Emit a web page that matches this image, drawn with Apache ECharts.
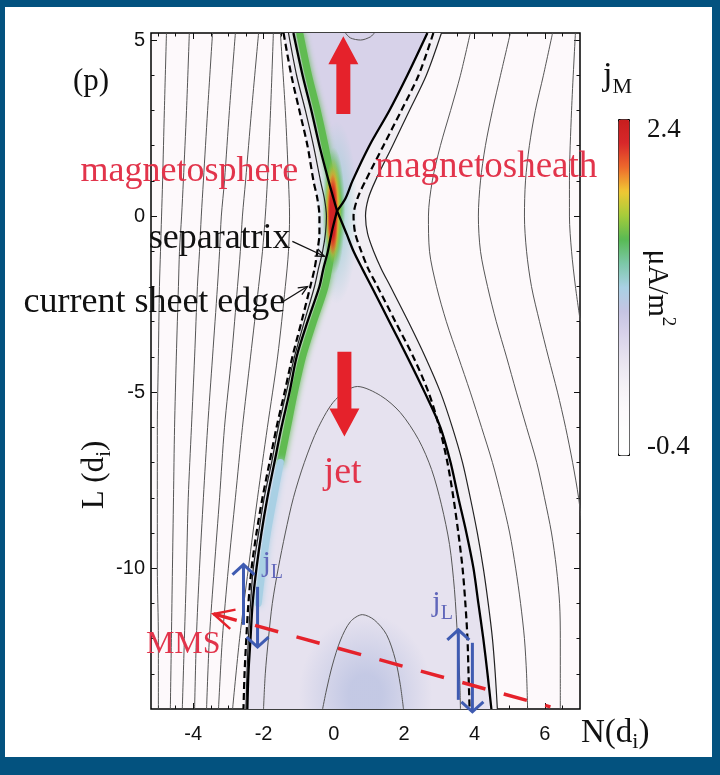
<!DOCTYPE html>
<html><head><meta charset="utf-8">
<script src="https://cdn.jsdelivr.net/npm/echarts@6/dist/echarts.min.js"></script>
<style>
html,body{margin:0;padding:0;background:#03527f;width:720px;height:775px;overflow:hidden}
#frame{position:absolute;left:5px;top:7px;width:707px;height:750px;background:#fff}
#chart{position:absolute;left:0;top:0;width:720px;height:775px}
</style></head><body>
<div id="frame"></div><div id="chart"></div>
<script>
// ---------------- axes / ticks ----------------
const xRange = [-5.2, 7.0];
const yRange = [-14, 5.2];
const xMajorTicks = [-4, -2, 0, 2, 4, 6];
const xMinorTicks = [-5, -4.5, -3.5, -3, -2.5, -1.5, -1, -0.5, 0.5, 1, 1.5, 2.5, 3, 3.5, 4.5, 5, 5.5, 6.5];
const yMajorTicks = [5, 0, -5, -10];
const yMinorTicks = [4, 3, 2, 1, -1, -2, -3, -4, -6, -7, -8, -9, -11, -12, -13];
const cbRange = [-0.4, 2.4];
const cbTicks = [2.4, -0.4];

// ---------------- separatrices ----------------
const sepUL_N = [-1.15, -0.89, -0.64, -0.41, -0.15, -0.01, 0.09];
const sepUL_L = [5.2, 4, 3, 2, 1, 0.5, 0.15];
const sepUR_N = [0.09, 0.33, 0.53, 1.01, 1.58, 2.09, 2.66];
const sepUR_L = [0.15, 0.5, 1, 2, 3, 4, 5.2];
const sepLow_L = [0.15, -0.5, -1, -1.5, -2, -3, -4, -5, -6, -7, -8, -9, -10, -11, -12, -13, -14];
const sepLL_N = [0.09, -0.07, -0.17, -0.30, -0.41, -0.75, -1.06, -1.26, -1.49, -1.69, -1.89, -2.06, -2.20, -2.31, -2.37, -2.43, -2.46];
const sepLR_N = [0.09, 0.36, 0.56, 0.81, 1.07, 1.58, 2.09, 2.58, 3.03, 3.32, 3.54, 3.77, 3.97, 4.11, 4.25, 4.37, 4.48];

// ---------------- current sheet edges (dashed) and adjacent field lines ----------------
const edge_L = [5.2, 4, 3, 2, 1, 0.5, 0, -0.5, -1, -1.5, -2, -3, -4, -5, -6, -7, -8, -9, -10, -11, -12, -13, -14];
const edgeLeft_N = [-1.43, -1.21, -0.98, -0.75, -0.58, -0.47, -0.41, -0.41, -0.47, -0.55, -0.67, -0.92, -1.18, -1.40, -1.63, -1.83, -2.03, -2.20, -2.34, -2.43, -2.49, -2.54, -2.57];
const nearLeft_N = [-1.29, -1.06, -0.81, -0.58, -0.38, -0.27, -0.21, -0.24, -0.32, -0.44, -0.55, -0.84, -1.12, -1.35, -1.58, -1.77, -1.98, -2.14, -2.29, -2.37, -2.43, -2.47, -2.50];
const edgeRight_N = [2.83, 2.41, 1.92, 1.41, 0.90, 0.67, 0.56, 0.61, 0.78, 0.98, 1.24, 1.75, 2.26, 2.69, 3.00, 3.23, 3.40, 3.54, 3.66, 3.74, 3.80, 3.83, 3.86];
const nearRight_N = [3.06, 2.63, 2.15, 1.67, 1.18, 0.98, 0.90, 0.96, 1.13, 1.35, 1.61, 2.12, 2.60, 3.03, 3.37, 3.66, 3.88, 4.08, 4.25, 4.39, 4.51, 4.59, 4.65];

// ---------------- magnetosphere field lines ----------------
const L_msph = [5.2, 3, 1, 0, -1, -2, -4, -6, -8, -10, -12, -14];
const msph1 = [-4.76, -4.82, -4.87, -4.90, -4.93, -4.96, -4.99, -5.02, -5.02, -5.02, -4.99, -4.99];
const msph2 = [-4.11, -4.19, -4.28, -4.33, -4.39, -4.42, -4.48, -4.53, -4.56, -4.59, -4.62, -4.65];
const msph3 = [-3.45, -3.59, -3.71, -3.77, -3.82, -3.88, -3.96, -4.05, -4.14, -4.19, -4.25, -4.31];
const msph4 = [-2.80, -2.97, -3.11, -3.20, -3.25, -3.31, -3.45, -3.59, -3.71, -3.82, -3.91, -3.96];
const msph5 = [-2.14, -2.34, -2.51, -2.60, -2.66, -2.74, -2.91, -3.11, -3.25, -3.40, -3.54, -3.62];
const msph6 = [-1.72, -1.80, -1.89, -1.95, -2.03, -2.14, -2.37, -2.60, -2.80, -3.00, -3.17, -3.28];
const msph7 = [-1.52, -1.38, -1.29, -1.26, -1.29, -1.38, -1.60, -1.89, -2.17, -2.43, -2.68, -2.88];

// ---------------- magnetosheath field lines ----------------
const L_msh = [5.2, 4, 3, 2, 1, 0, -1, -2, -3, -4, -5, -6, -7, -8, -9, -10, -11, -12, -13, -14];
const msh1 = [3.88, 3.60, 3.32, 3.03, 2.80, 2.69, 2.72, 2.92, 3.20, 3.54, 3.88, 4.20, 4.51, 4.77, 5.00, 5.17, 5.31, 5.42, 5.48, 5.51];
const msh2 = [5.02, 4.74, 4.51, 4.31, 4.17, 4.11, 4.17, 4.37, 4.62, 4.91, 5.19, 5.48, 5.77, 5.99, 6.19, 6.33, 6.42, 6.44, 6.44, 6.44];
const msh3 = [6.22, 5.96, 5.73, 5.56, 5.45, 5.42, 5.48, 5.62, 5.85, 6.10, 6.36, 6.59, 6.79, 6.96, 7.08];
const L_msh4 = [5.2, 3, 1, 0, -1, -2, -3];
const msh4 = [6.87, 6.76, 6.70, 6.70, 6.76, 6.87, 7.01];

// ---------------- closed contours inside the jet ----------------
const jetBig_N = [-2.00, -1.95, -1.86, -1.75, -1.58, -1.38, -1.15, -0.84, -0.44, 0.05, 0.67, 1.33, 1.89, 2.41, 2.78, 3.06, 3.29, 3.43, 3.52, 3.58, 3.60];
const jetBig_L = [-14, -13, -12, -11, -10, -9, -8, -7, -6, -5.21, -4.84, -5.10, -5.58, -6.35, -7.20, -8.20, -9.33, -10.61, -12.03, -13.17, -14];
const jetSmall_N = [-0.32, -0.21, -0.04, 0.19, 0.47, 0.81, 1.15, 1.50, 1.75, 1.89, 1.98];
const jetSmall_L = [-14, -13.46, -12.75, -12.04, -11.52, -11.32, -11.47, -11.89, -12.60, -13.31, -14];
const topArc_N = [0.33, 0.47, 0.76, 1.04, 1.15];
const topArc_L = [5.2, 5.06, 5.0, 5.09, 5.2];

// ---------------- j_M field (regions, strips, blobs) ----------------
const patchValues = [0.62, 0.41, 0.30, 0.22];      // upper jet, lower jet, left current layer, right current layer
const greenUp_N = [-0.97, -0.72, -0.47, -0.25, -0.06, 0.04, 0.08];
const greenUp_L = [5.2, 4, 3, 2, 1, 0.5, 0.2];
const greenLow_N = [0.04, -0.06, -0.25, -0.58, -0.89, -1.12, -1.32, -1.52];
const greenLow_L = [-0.38, -1, -2, -3, -4, -5, -6, -7];
const cyanLow_N = [-1.52, -1.71, -1.89, -2.03, -2.15];
const cyanLow_L = [-7, -8, -9, -10, -11];
const stripValues = [1.42, 1.42, 1.0];
const blobN = [0.9, 0.08, 0.0, -0.02, -0.03, -0.03];
const blobL = [-13.6, 0.1, 0.15, 0.15, 0.1, 0.05];
const blobRN = [1.9, 0.6, 0.32, 0.24, 0.19, 0.15];
const blobRL = [2.3, 2.6, 1.8, 1.5, 1.3, 1.15];
const blobValues = [0.84, 1.05, 1.42, 1.72, 1.95, 2.3];

// ---------------- annotations ----------------
const noteTexts = ['magnetosphere', 'magnetosheath', 'separatrix', 'current sheet edge', 'jet', 'MMS'];
const noteN = [-1.01, 1.18, -1.23, -1.38, 0.25, -3.22];
const noteL = [1.27, 1.40, -0.63, -2.45, -7.29, -12.18];
const bigArrowN = [0.27, 0.30];
const bigArrowFromL = [2.90, -3.85];
const bigArrowToL = [5.11, -6.26];
const jLArrowN = [-2.57, -2.17, 3.54, 3.94];
const jLArrowFromL = [-11.61, -10.53, -13.74, -12.12];
const jLArrowToL = [-9.90, -12.24, -11.75, -14.08];
const jLLabelN = [-2.03, 2.80];
const jLLabelL = [-9.93, -11.07];
const mmsPath = [[-3.42, -11.30, 6.16, -13.94]];
const pointerFrom = [[-1.18, -0.72], [-1.43, -2.42]];
const pointerTo = [[-0.27, -1.14], [-0.75, -2.0]];

// ---------------- helpers ----------------
const serif = '"Liberation Serif", "Times New Roman", serif';
const sans = '"Liberation Sans", Arial, sans-serif';
const RED_TXT = '#e2344b';
const RED_ARR = '#e5222b';
const BLUE = '#3f5bb1';
const BLUE_TXT = '#6066ba';
const zip = (N, L) => N.map((n, i) => [n, L[i]]);

const sepUL = zip(sepUL_N, sepUL_L);
const sepUR = zip(sepUR_N, sepUR_L);
const sepLL = zip(sepLL_N, sepLow_L);
const sepLR = zip(sepLR_N, sepLow_L);
const edgeLeft = zip(edgeLeft_N, edge_L);
const nearRight = zip(nearRight_N, edge_L);
const patchPolys = [
  sepUL.concat(sepUR),
  sepLL.concat(sepLR.slice().reverse()),
  edgeLeft.concat(sepLL.slice().reverse(), sepUL.slice().reverse()),
  nearRight.concat(sepLR.slice().reverse(), sepUR)
];
const stripLines = [zip(greenUp_N, greenUp_L), zip(greenLow_N, greenLow_L), zip(cyanLow_N, cyanLow_L)];

const fieldData = [];
patchValues.forEach((v, i) => fieldData.push([v, 0, i]));
[0, 1].forEach(i => fieldData.push([blobValues[i], 2, i]));
stripValues.forEach((v, i) => fieldData.push([v, 1, i]));
[2, 3, 4, 5].forEach(i => fieldData.push([blobValues[i], 2, i]));

function renderField(params, api) {
  const kind = api.value(1), idx = api.value(2);
  const color = api.visual('color');
  if (kind === 0) {
    return { type: 'polygon', silent: true, shape: { points: patchPolys[idx].map(p => api.coord(p)) }, style: { fill: color } };
  }
  if (kind === 1) {
    return { type: 'polyline', silent: true, shape: { points: stripLines[idx].map(p => api.coord(p)), smooth: 0.3 },
      style: { stroke: color, fill: null, lineWidth: 7, lineCap: 'round', shadowBlur: 6, shadowColor: color } };
  }
  const c = api.coord([blobN[idx], blobL[idx]]);
  const s = api.size([blobRN[idx], blobRL[idx]]);
  const clear = echarts.color.modifyAlpha(color, 0);
  const inner = idx === 0 ? 0.25 : idx === 1 ? 0.2 : 0.55;
  const alpha = idx === 0 ? 0.9 : idx === 1 ? 0.85 : 1;
  return { type: 'circle', silent: true, x: c[0], y: c[1], scaleY: s[1] / s[0], shape: { cx: 0, cy: 0, r: s[0] },
    style: { opacity: alpha, fill: { type: 'radial', x: 0.5, y: 0.5, r: 0.5, colorStops: [
      { offset: 0, color: color }, { offset: inner, color: color }, { offset: 1, color: clear }] } } };
}

function vHead(tip, ux, uy, back, spread) {
  const px = -uy, py = ux;
  return [[tip[0] - ux * back + px * spread, tip[1] - uy * back + py * spread], tip,
          [tip[0] - ux * back - px * spread, tip[1] - uy * back - py * spread]];
}
function unit(a, b) { const dx = b[0] - a[0], dy = b[1] - a[1], l = Math.hypot(dx, dy); return [dx / l, dy / l]; }

function renderBigArrow(params, api) {
  const a = api.coord([api.value(0), api.value(1)]);
  const b = api.coord([api.value(0), api.value(2)]);
  const [ux, uy] = unit(a, b); const px = -uy, py = ux;
  const hl = 28, hw = 15, sw = 7;
  const bx = b[0] - ux * hl, by = b[1] - uy * hl;
  return { type: 'polygon', silent: true, shape: { points: [
    [a[0] + px * sw, a[1] + py * sw], [bx + px * sw, by + py * sw], [bx + px * hw, by + py * hw], [b[0], b[1]],
    [bx - px * hw, by - py * hw], [bx - px * sw, by - py * sw], [a[0] - px * sw, a[1] - py * sw]] },
    style: { fill: RED_ARR } };
}
function renderJLArrow(params, api) {
  const a = api.coord([api.value(0), api.value(1)]);
  const b = api.coord([api.value(0), api.value(2)]);
  const [ux, uy] = unit(a, b);
  return { type: 'group', silent: true, children: [
    { type: 'line', shape: { x1: a[0], y1: a[1], x2: b[0], y2: b[1] }, style: { stroke: BLUE, lineWidth: 3 } },
    { type: 'polyline', shape: { points: vHead(b, ux, uy, 10, 11) }, style: { stroke: BLUE, lineWidth: 3, fill: null } }
  ] };
}
function renderMMS(params, api) {
  const a = api.coord([api.value(0), api.value(1)]);
  const b = api.coord([api.value(2), api.value(3)]);
  const [ux, uy] = unit(b, a);
  return { type: 'group', silent: true, children: [
    { type: 'line', shape: { x1: a[0], y1: a[1], x2: b[0], y2: b[1] }, style: { stroke: RED_ARR, lineWidth: 3.5, lineDash: [24, 19] } },
    { type: 'polyline', shape: { points: vHead(a, ux, uy, 20, 10) }, style: { stroke: RED_ARR, lineWidth: 2.5, fill: null } }
  ] };
}
function renderPointer(params, api) {
  const a = api.coord([api.value(0), api.value(1)]);
  const b = api.coord([api.value(2), api.value(3)]);
  const [ux, uy] = unit(a, b);
  return { type: 'group', silent: true, children: [
    { type: 'line', shape: { x1: a[0], y1: a[1], x2: b[0], y2: b[1] }, style: { stroke: '#111', lineWidth: 1.3 } },
    { type: 'polyline', shape: { points: vHead(b, ux, uy, 9, 4) }, style: { stroke: '#111', lineWidth: 1.3, fill: null } }
  ] };
}
const noteStyle = [
  { size: 36, color: RED_TXT, align: 'right' },
  { size: 37, color: RED_TXT, align: 'left' },
  { size: 36, color: '#111', align: 'right' },
  { size: 36, color: '#111', align: 'right' },
  { size: 38, color: RED_TXT, align: 'center' },
  { size: 32, color: RED_TXT, align: 'right' }
];
function renderNote(params, api) {
  const i = params.dataIndex, st = noteStyle[i];
  const p = api.coord([api.value(0), api.value(1)]);
  return { type: 'text', silent: true, x: p[0], y: p[1], style: { text: noteTexts[i], fontSize: st.size, fontFamily: serif,
    fill: st.color, align: st.align, textAlign: st.align, verticalAlign: 'middle', textVerticalAlign: 'middle' } };
}
function renderJL(params, api) {
  const p = api.coord([api.value(0), api.value(1)]);
  return { type: 'text', silent: true, x: p[0], y: p[1], style: { text: '{j|j}{s|L}', align: 'left', textAlign: 'left',
    verticalAlign: 'middle', textVerticalAlign: 'middle',
    rich: { j: { fontSize: 30, fontFamily: serif, fill: BLUE_TXT, color: BLUE_TXT, verticalAlign: 'bottom', padding: [0, 0, 5, 0] },
            s: { fontSize: 20, fontFamily: serif, fill: BLUE_TXT, color: BLUE_TXT, verticalAlign: 'bottom' } } } };
}

function lineSeries(data, color, width, dash) {
  return { type: 'line', xAxisIndex: 0, yAxisIndex: 0, data, showSymbol: false, symbol: 'none', smooth: 0.3,
    silent: true, animation: false, clip: true, z: 3,
    lineStyle: { color, width, type: dash ? [7, 4] : 'solid' } };
}

function xAx(pos, ticks, len, showLabel) {
  return { type: 'value', gridIndex: 0, position: pos, min: xRange[0], max: xRange[1],
    axisLine: { show: false, onZero: false }, splitLine: { show: false },
    axisTick: { show: true, inside: true, length: len, customValues: ticks, lineStyle: { color: '#111', width: 1 } },
    axisLabel: { show: showLabel, customValues: ticks, margin: 15, fontSize: 20, fontFamily: sans, color: '#111' } };
}
function yAx(pos, ticks, len, showLabel) {
  return { type: 'value', gridIndex: 0, position: pos, min: yRange[0], max: yRange[1],
    axisLine: { show: false, onZero: false }, splitLine: { show: false },
    axisTick: { show: true, inside: true, length: len, customValues: ticks, lineStyle: { color: '#111', width: 1 } },
    axisLabel: { show: showLabel, customValues: ticks, margin: 6, fontSize: 20, fontFamily: sans, color: '#111' } };
}

const cbColors = ['#ffffff', '#fefdfe', '#fbf9fb', '#f3f0f5', '#e7e3ef', '#d9d3ea', '#c6c4e3', '#a9d0e4',
                  '#7cc8a8', '#58b954', '#a6cc3a', '#f0c834', '#ee6a2c', '#d8282a', '#c81e1e'];

const chart = echarts.init(document.getElementById('chart'), null, { renderer: 'canvas' });
chart.setOption({
  animation: false,
  backgroundColor: 'transparent',
  textStyle: { fontFamily: sans },
  grid: [
    { left: 151, top: 33, width: 429, height: 676, show: true, backgroundColor: '#fdf9fb', borderColor: '#000', borderWidth: 1.5, containLabel: false, outerBoundsMode: 'none' },
    { left: 618, top: 119, width: 11, height: 336, show: false, containLabel: false, outerBoundsMode: 'none' }
  ],
  xAxis: [
    xAx('bottom', xMajorTicks, 6, true), xAx('bottom', xMinorTicks, 3.5, false),
    xAx('top', xMajorTicks, 6, false), xAx('top', xMinorTicks, 3.5, false),
    { type: 'value', gridIndex: 1, show: false, min: 0, max: 1 }
  ],
  yAxis: [
    yAx('left', yMajorTicks, 6, true), yAx('left', yMinorTicks, 3.5, false),
    yAx('right', yMajorTicks, 6, false), yAx('right', yMinorTicks, 3.5, false),
    { type: 'value', gridIndex: 1, position: 'right', min: cbRange[0], max: cbRange[1],
      axisLine: { show: false, onZero: false }, axisTick: { show: false }, splitLine: { show: false },
      axisLabel: { show: true, customValues: cbTicks, margin: 18, fontSize: 27, fontFamily: serif, color: '#111',
        formatter: v => (v > 1 ? '{t|' + v + '}' : '{b|' + v + '}'),
        rich: { t: { fontSize: 27, fontFamily: serif, color: '#111', padding: [22, 0, 0, 0] },
                b: { fontSize: 27, fontFamily: serif, color: '#111', padding: [0, 0, 16, 0] } } } }
  ],
  visualMap: [{
    type: 'continuous', min: cbRange[0], max: cbRange[1], dimension: 0, seriesIndex: 0,
    left: 618, top: 119, itemWidth: 11, itemHeight: 336, orient: 'vertical', padding: 0,
    calculable: false, hoverLink: false, borderColor: '#000', borderWidth: 1,
    inRange: { color: cbColors }
  }],
  series: [
    { type: 'custom', name: 'jM', xAxisIndex: 0, yAxisIndex: 0, data: fieldData, renderItem: renderField, clip: true, silent: true, z: 1 },
    lineSeries(zip(msph1, L_msph), '#555', 1),
    lineSeries(zip(msph2, L_msph), '#555', 1),
    lineSeries(zip(msph3, L_msph), '#555', 1),
    lineSeries(zip(msph4, L_msph), '#555', 1),
    lineSeries(zip(msph5, L_msph), '#555', 1),
    lineSeries(zip(msph6, L_msph), '#555', 1),
    lineSeries(zip(msph7, L_msph), '#555', 1),
    lineSeries(zip(msh1, L_msh), '#555', 1),
    lineSeries(zip(msh2, L_msh), '#555', 1),
    lineSeries(zip(msh3, L_msh), '#555', 1),
    lineSeries(zip(msh4, L_msh4), '#555', 1),
    lineSeries(zip(jetBig_N, jetBig_L), '#555', 1),
    lineSeries(zip(jetSmall_N, jetSmall_L), '#555', 1),
    lineSeries(zip(topArc_N, topArc_L), '#555', 1),
    lineSeries(zip(nearLeft_N, edge_L), '#222', 1.2),
    lineSeries(nearRight, '#222', 1.2),
    lineSeries(edgeLeft, '#000', 2.2, true),
    lineSeries(zip(edgeRight_N, edge_L), '#000', 2.2, true),
    lineSeries(sepUL, '#000', 2.3),
    lineSeries(sepUR, '#000', 2.3),
    lineSeries(sepLL, '#000', 2.3),
    lineSeries(sepLR, '#000', 2.3),
    { type: 'custom', xAxisIndex: 0, yAxisIndex: 0, clip: false, silent: true, z: 5, renderItem: renderBigArrow,
      data: bigArrowN.map((n, i) => [n, bigArrowFromL[i], bigArrowToL[i]]) },
    { type: 'custom', xAxisIndex: 0, yAxisIndex: 0, clip: false, silent: true, z: 5, renderItem: renderJLArrow,
      data: jLArrowN.map((n, i) => [n, jLArrowFromL[i], jLArrowToL[i]]) },
    { type: 'custom', xAxisIndex: 0, yAxisIndex: 0, clip: false, silent: true, z: 5, renderItem: renderMMS, data: mmsPath },
    { type: 'custom', xAxisIndex: 0, yAxisIndex: 0, clip: false, silent: true, z: 5, renderItem: renderPointer,
      data: pointerFrom.map((p, i) => [p[0], p[1], pointerTo[i][0], pointerTo[i][1]]) },
    { type: 'custom', xAxisIndex: 0, yAxisIndex: 0, clip: false, silent: true, z: 6, renderItem: renderNote,
      data: noteN.map((n, i) => [n, noteL[i]]) },
    { type: 'custom', xAxisIndex: 0, yAxisIndex: 0, clip: false, silent: true, z: 6, renderItem: renderJL,
      data: jLLabelN.map((n, i) => [n, jLLabelL[i]]) }
  ],
  graphic: [
    { type: 'text', x: 91, y: 82, silent: true, style: { text: '(p)', fontSize: 31, fontFamily: serif, fill: '#111',
      align: 'center', textAlign: 'center', verticalAlign: 'middle', textVerticalAlign: 'middle' } },
    { type: 'text', x: 603, y: 98, silent: true, style: { text: '{a|j}{b|M}', align: 'left', textAlign: 'left',
      verticalAlign: 'bottom', textVerticalAlign: 'bottom',
      rich: { a: { fontSize: 34, fontFamily: serif, fill: '#111', color: '#111', verticalAlign: 'bottom', padding: [0, 0, 5, 0] },
              b: { fontSize: 22, fontFamily: serif, fill: '#111', color: '#111', verticalAlign: 'bottom' } } } },
    { type: 'text', x: 660, y: 288, rotation: -Math.PI / 2, silent: true, style: { text: '{a|μA/m}{b|2}',
      align: 'center', textAlign: 'center', verticalAlign: 'middle', textVerticalAlign: 'middle',
      rich: { a: { fontSize: 29, fontFamily: serif, fill: '#111', color: '#111', verticalAlign: 'top', padding: [6, 0, 0, 0] },
              b: { fontSize: 19, fontFamily: serif, fill: '#111', color: '#111', verticalAlign: 'top' } } } },
    { type: 'text', x: 581, y: 735, silent: true, style: { text: '{a|N(d}{b|i}{a|)}', align: 'left', textAlign: 'left',
      verticalAlign: 'middle', textVerticalAlign: 'middle',
      rich: { a: { fontSize: 33, fontFamily: serif, fill: '#111', color: '#111', verticalAlign: 'bottom', padding: [0, 0, 4, 0] },
              b: { fontSize: 22, fontFamily: serif, fill: '#111', color: '#111', verticalAlign: 'bottom' } } } },
    { type: 'text', x: 97, y: 475, rotation: Math.PI / 2, silent: true, style: { text: '{a|L (d}{b|i}{a|)}',
      align: 'center', textAlign: 'center', verticalAlign: 'middle', textVerticalAlign: 'middle',
      rich: { a: { fontSize: 31, fontFamily: serif, fill: '#111', color: '#111', verticalAlign: 'bottom', padding: [0, 0, 4, 0] },
              b: { fontSize: 21, fontFamily: serif, fill: '#111', color: '#111', verticalAlign: 'bottom' } } } }
  ]
});
</script></body></html>
